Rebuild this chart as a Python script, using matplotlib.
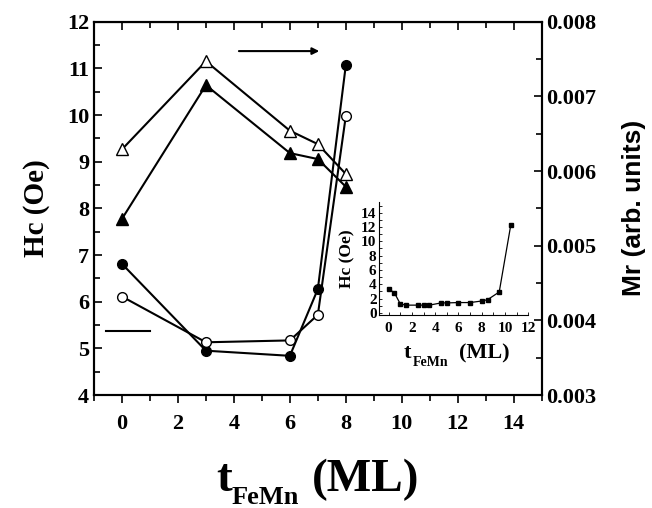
import matplotlib
matplotlib.use("Agg")
import matplotlib.pyplot as plt
from matplotlib.ticker import MultipleLocator

plt.rcParams['font.family'] = 'Liberation Serif'
plt.rcParams['font.weight'] = 'bold'

# Main data
t_main = [0, 3, 6, 7, 8]
hc_filled_circle = [6.81, 4.95, 4.84, 6.27, 11.07]
hc_open_circle = [6.11, 5.13, 5.17, 5.72, 9.98]
mr_open_tri = [0.00629, 0.00747, 0.00654, 0.00636, 0.00596]
mr_filled_tri = [0.00536, 0.00715, 0.00624, 0.00616, 0.00579]

# Inset data
t_inset = [0, 0.5, 1, 1.5, 2.5, 3, 3.5, 4.5, 5, 6, 7, 8, 8.5, 9.5, 10.5]
hc_inset = [3.36, 2.79, 1.25, 1.08, 1.08, 1.08, 1.08, 1.39, 1.39, 1.44, 1.44, 1.66, 1.84, 2.92, 12.34]

W, H = 652, 508
fig = plt.figure(figsize=(6.52, 5.08), dpi=100)
ax = fig.add_axes([0.1442, 0.2224, 0.6866, 0.7349])
ax2 = ax.twinx()

ax.plot(t_main, hc_filled_circle, '-o', color='black', mfc='black', mec='black', ms=7, lw=1.5)
ax.plot(t_main, hc_open_circle, '-o', color='black', mfc='white', mec='black', ms=7, lw=1.5)
ax2.plot(t_main, mr_open_tri, '-^', color='black', mfc='white', mec='black', ms=8, lw=1.5)
ax2.plot(t_main, mr_filled_tri, '-^', color='black', mfc='black', mec='black', ms=8, lw=1.5)

ax.set_xlim(-1, 15)
ax.set_ylim(4, 12)
ax2.set_ylim(0.003, 0.008)

ax.xaxis.set_major_locator(MultipleLocator(2))
ax.xaxis.set_minor_locator(MultipleLocator(1))
ax.yaxis.set_major_locator(MultipleLocator(1))
ax.yaxis.set_minor_locator(MultipleLocator(0.5))
ax2.set_yticks([0.003, 0.004, 0.005, 0.006, 0.007, 0.008])
ax2.set_yticklabels(['0.003', '0.004', '0.005', '0.006', '0.007', '0.008'])
ax2.yaxis.set_minor_locator(MultipleLocator(0.0005))

ax.tick_params(axis='x', which='both', direction='out', top=False, labelsize=16, pad=8)
ax.tick_params(axis='x', which='major', length=6, width=1.2)
ax.tick_params(axis='x', which='minor', length=4, width=1.2)
ax.tick_params(axis='y', which='both', direction='in', labelsize=16, width=1.2)
ax.tick_params(axis='y', which='major', length=6)
ax.tick_params(axis='y', which='minor', length=4)
ax2.tick_params(axis='y', which='both', direction='in', labelsize=16, width=1.2)
ax2.tick_params(axis='y', which='major', length=6)
ax2.tick_params(axis='y', which='minor', length=4)

axt = ax.secondary_xaxis('top')
axt.xaxis.set_major_locator(MultipleLocator(2))
axt.xaxis.set_minor_locator(MultipleLocator(1))
axt.tick_params(which='both', direction='in', labeltop=False, width=1.2)
axt.tick_params(which='major', length=6)
axt.tick_params(which='minor', length=4)

for a in (ax, ax2):
    for s in a.spines.values():
        s.set_linewidth(1.5)

ax.set_ylabel('Hc (Oe)', fontsize=21, fontweight='bold', labelpad=12)
ax2.set_ylabel('Mr (arb. units)', fontsize=19, fontweight='bold', family='Liberation Sans', labelpad=18)

# Composite x label t_FeMn (ML)
def px(x, y):
    return x / W, 1 - y / H

fig.text(*px(216, 491), 't', fontsize=34, fontweight='bold', ha='left', va='baseline')
fig.text(*px(232, 504), 'FeMn', fontsize=19, fontweight='bold', ha='left', va='baseline')
fig.text(*px(312, 491), '(ML)', fontsize=34, fontweight='bold', ha='left', va='baseline')

# Direction indicators
ax.annotate('', xy=(7.15, 11.37), xytext=(4.08, 11.37),
            arrowprops=dict(arrowstyle='-|>', color='black', lw=1.5, mutation_scale=10))
ax.plot([-0.56, 0.99], [5.38, 5.38], color='black', lw=1.5)

# Inset
axi = fig.add_axes([0.5818, 0.3799, 0.2285, 0.2225])
axi.plot(t_inset, hc_inset, '-s', color='black', ms=3.5, lw=0.9)
axi.set_xlim(-0.8, 12)
axi.set_ylim(-0.3, 15.5)
axi.spines['top'].set_visible(False)
axi.spines['right'].set_visible(False)
axi.patch.set_alpha(0)
axi.set_xticks([0, 2, 4, 6, 8, 10, 12])
axi.set_yticks([0, 2, 4, 6, 8, 10, 12, 14])
axi.xaxis.set_minor_locator(MultipleLocator(1))
axi.yaxis.set_minor_locator(MultipleLocator(1))
axi.tick_params(which='both', direction='in', labelsize=11, length=2, width=0.6)
axi.tick_params(axis='x', pad=5)
axi.tick_params(axis='y', pad=2)
axi.set_ylabel('Hc (Oe)', fontsize=12.5, fontweight='bold', labelpad=4)

fig.text(*px(404, 358), 't', fontsize=16, fontweight='bold', ha='left', va='baseline')
fig.text(*px(413, 366), 'FeMn', fontsize=10, fontweight='bold', ha='left', va='baseline')
fig.text(*px(459, 358), '(ML)', fontsize=16, fontweight='bold', ha='left', va='baseline')

fig.savefig('out.png', dpi=100)
